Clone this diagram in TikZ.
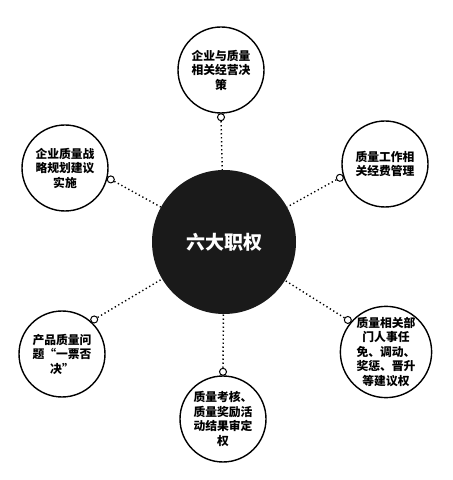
\documentclass[tikz,border=0pt]{standalone}
\usepackage{fontspec}
\newfontfamily\cjk{Noto Sans CJK SC}
\usetikzlibrary{positioning, calc}
\definecolor{hubfill}{RGB}{26, 26, 26}

\tikzset{
  duty/.style={circle, draw, line width=1.4pt, minimum size=86pt, inner sep=0pt,
    align=center, font=\cjk\bfseries\fontsize{11.8}{14.5}\selectfont},
  ring/.style={circle, draw, line width=1pt, fill=white, minimum size=7pt, inner sep=0pt},
  link/.style={line width=1.4pt, dash pattern=on 1.3pt off 2.7pt}
}

\begin{document}
\begin{tikzpicture}[x=1pt, y=1pt]
  \useasboundingbox (0,0) rectangle (453,480);

  % Hub
  \node[circle, fill=hubfill, minimum size=144pt, inner sep=0pt, text=white,
    font=\cjk\bfseries\fontsize{19}{22}\selectfont] (hub) at (224,238) {六大职权};

  % Six duties
  \node[duty] (top) at (221,410) {企业与质量\\相关经营决\\策};
  \node[duty] (lt)  at (65,312)  {企业质量战\\略规划建议\\实施};
  \node[duty] (rt)  at (385,316) {质量工作相\\关经费管理};
  \node[duty] (lb)  at (62,126)  {产品质量问\\题“一票否\\决”};
  \node[duty] (rb)  at (386,128) {质量相关部\\门人事任\\免、调动、\\奖惩、晋升\\等建议权};
  \node[duty] (bot) at (223,61)  {质量考核、\\质量奖励活\\动结果审定\\权};

  % Rings on the duty circles
  \node[ring] (rtop) at ([shift={(-90:3.5)}]top.-90) {};
  \node[ring] (rlt)  at ([shift={(-14:3.5)}]lt.-14) {};
  \node[ring] (rrt)  at ([shift={(197:3.5)}]rt.197) {};
  \node[ring] (rlb)  at ([shift={(47:3.5)}]lb.47) {};
  \node[ring] (rrb)  at ([shift={(140:3.5)}]rb.140) {};
  \node[ring] (rbot) at ([shift={(90:3.5)}]bot.90) {};

  % Dotted links to the hub
  \foreach \r in {rtop, rlt, rrt, rlb, rrb, rbot}
    \draw[link] (\r) -- (hub);
\end{tikzpicture}
\end{document}
